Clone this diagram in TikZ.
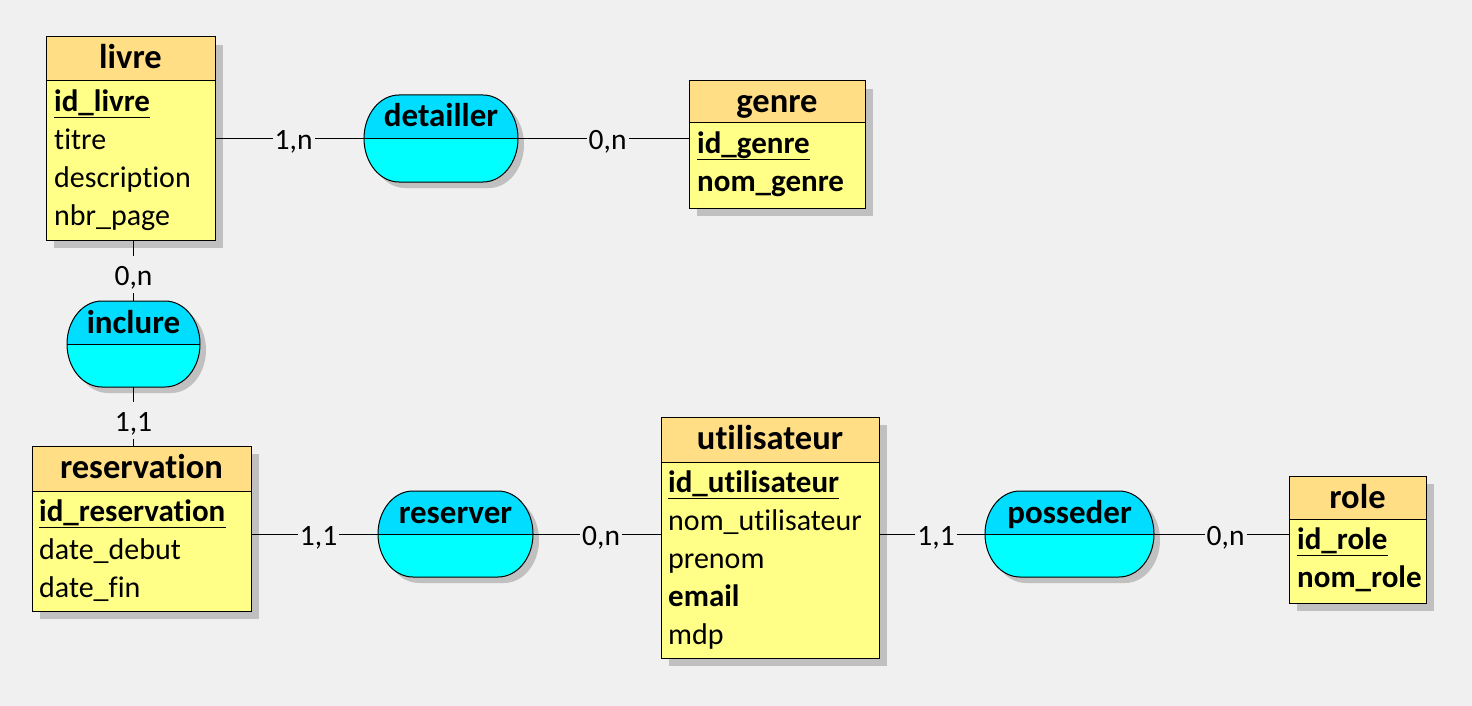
\documentclass[tikz,border=0pt]{standalone}
\usepackage{fontspec}
\setmainfont{Carlito}[Ligatures=CommonOff]
\usetikzlibrary{shadows,calc}
\definecolor{bgc}{HTML}{F0F0F0}
\definecolor{hdrc}{HTML}{FFDE85}
\definecolor{bodyc}{HTML}{FFFF88}
\definecolor{shc}{HTML}{C0C0C0}
\definecolor{asstop}{HTML}{00DDFF}
\definecolor{assbot}{HTML}{00FFFF}
\tikzset{
  entbox/.style={rectangle, anchor=north west, inner sep=0pt, fill=bodyc,
    drop shadow={shadow xshift=8pt, shadow yshift=-8pt, fill=shc, opacity=1}},
  assbox/.style={rectangle, inner sep=0pt},
  outline/.style={draw=black, line width=1pt},
  etitle/.style={anchor=base, inner sep=0pt, font=\fontsize{34.5}{40}\selectfont\bfseries},
  atitle/.style={anchor=base, inner sep=0pt, font=\fontsize{33}{40}\selectfont\bfseries},
  attr/.style={anchor=base west, inner sep=0pt, font=\fontsize{30}{36}\selectfont},
  battr/.style={anchor=base west, inner sep=0pt, font=\fontsize{31}{36}\selectfont\bfseries},
  uline/.style={draw=black, line width=1.2pt},
  link/.style={draw=black, line width=1pt},
  cardbase/.style={anchor=base, fill=bgc, inner xsep=2pt, inner ysep=0pt,
    text height=29pt, text depth=8pt, font=\fontsize{29.5}{36}\selectfont},
  card/.style={cardbase, yshift=-11pt, xshift=4pt},
  vcard/.style={cardbase, yshift=-14.5pt},
}
% name, x1, y1, x2, y2, header bottom, title, title baseline
\newcommand\entity[8]{%
  \node[entbox, minimum width={#4pt-#2pt}, minimum height={#5pt-#3pt}] (#1) at (#2,#3) {};
  \fill[hdrc] (#2,#3) rectangle (#4,#6);
  \draw[outline] (#2,#6) -- (#4,#6);
  \draw[outline] (#2,#3) rectangle (#4,#5);
  \node[etitle] (#1-title) at ({(#2+#4)/2},#8) {#7};
}
% stadium outline with elliptical ends: x1, y1, x2, y2
\newcommand\asspath[4]{%
  ({#1+35},#2) -- ({#3-35},#2)
  arc[start angle=90, end angle=-90, x radius=35pt, y radius={(#4pt-#2pt)/2}]
  -- ({#1+35},#4)
  arc[start angle=270, end angle=90, x radius=35pt, y radius={(#4pt-#2pt)/2}]
  -- cycle}
% name, x1, y1, x2, y2, title
\newcommand\assoc[6]{%
  \begin{scope}[shift={(6,6)}]
    \fill[shc] \asspath{#2}{#3}{#4}{#5};
  \end{scope}
  \fill[assbot] \asspath{#2}{#3}{#4}{#5};
  \begin{scope}
    \clip \asspath{#2}{#3}{#4}{#5};
    \fill[asstop] (#2,#3) rectangle (#4,{(#3+#5)/2});
  \end{scope}
  \node[assbox, minimum width={#4pt-#2pt}, minimum height={#5pt-#3pt}] (#1) at ({(#2+#4)/2},{(#3+#5)/2}) {};
  \draw[outline] (#1.west) -- (#1.east);
  \draw[outline] \asspath{#2}{#3}{#4}{#5};
  \node[atitle] (#1-title) at ({(#2+#4)/2},{#3+32}) {#6};
}
\newcommand\idline[1]{\draw[uline] ([yshift=-6pt]#1.base west) -- ([yshift=-6pt]#1.base east);}

\begin{document}
\begin{tikzpicture}[x=1pt, y=-1pt]
\useasboundingbox (0,0) rectangle (1472,706);
\fill[bgc] (0,0) rectangle (1472,706);

% entities
\entity{livre}{46}{37}{215}{240}{81}{livre}{69}
\node[battr] (livre-a1) at (54,111.5) {id\_livre}; \idline{livre-a1}
\node[attr] (livre-a2) at (54,149.5) {titre};
\node[attr] (livre-a3) at (54,187.5) {description};
\node[attr] (livre-a4) at (54,225.5) {nbr\_page};

\entity{genre}{689}{81}{865}{208}{123}{genre}{113}
\node[battr] (genre-a1) at (697,153.5) {id\_genre}; \idline{genre-a1}
\node[battr] (genre-a2) at (697,191.5) {nom\_genre};

\entity{reservation}{32}{446}{251}{611}{491}{reservation}{478}
\node[battr] (reservation-a1) at (39,521.5) {id\_reservation}; \idline{reservation-a1}
\node[attr] (reservation-a2) at (39,559.5) {date\_debut};
\node[attr] (reservation-a3) at (39,597.5) {date\_fin};

\entity{utilisateur}{661}{417}{879}{658}{462}{utilisateur}{449}
\node[battr] (utilisateur-a1) at (668,492.5) {id\_utilisateur}; \idline{utilisateur-a1}
\node[attr] (utilisateur-a2) at (668,530.5) {nom\_utilisateur};
\node[attr] (utilisateur-a3) at (668,568.5) {prenom};
\node[battr] (utilisateur-a4) at (668,606.5) {email};
\node[attr] (utilisateur-a5) at (668,644.5) {mdp};

\entity{role}{1289}{476}{1426}{603}{519}{role}{508}
\node[battr] (role-a1) at (1297,549.5) {id\_role}; \idline{role-a1}
\node[battr] (role-a2) at (1297,587.5) {nom\_role};

% associations
\assoc{detailler}{364}{95}{518}{182}{detailler}
\assoc{inclure}{67}{301}{200}{387}{inclure}
\assoc{reserver}{378}{491}{533}{577}{reserver}
\assoc{posseder}{985}{491}{1154}{577}{posseder}

% connectors
\draw[link] (livre.east |- detailler.west) -- node[card] {1,n} (detailler.west);
\draw[link] (detailler.east) -- node[card] {0,n} (detailler.east -| genre.west);
\draw[link] (inclure.north |- livre.south) -- node[vcard] {0,n} (inclure.north);
\draw[link] (inclure.south) -- node[vcard] {1,1} (inclure.south |- reservation.north);
\draw[link] (reservation.east |- reserver.west) -- node[card] {1,1} (reserver.west);
\draw[link] (reserver.east) -- node[card] {0,n} (reserver.east -| utilisateur.west);
\draw[link] (utilisateur.east |- posseder.west) -- node[card] {1,1} (posseder.west);
\draw[link] (posseder.east) -- node[card] {0,n} (posseder.east -| role.west);
\end{tikzpicture}
\end{document}
